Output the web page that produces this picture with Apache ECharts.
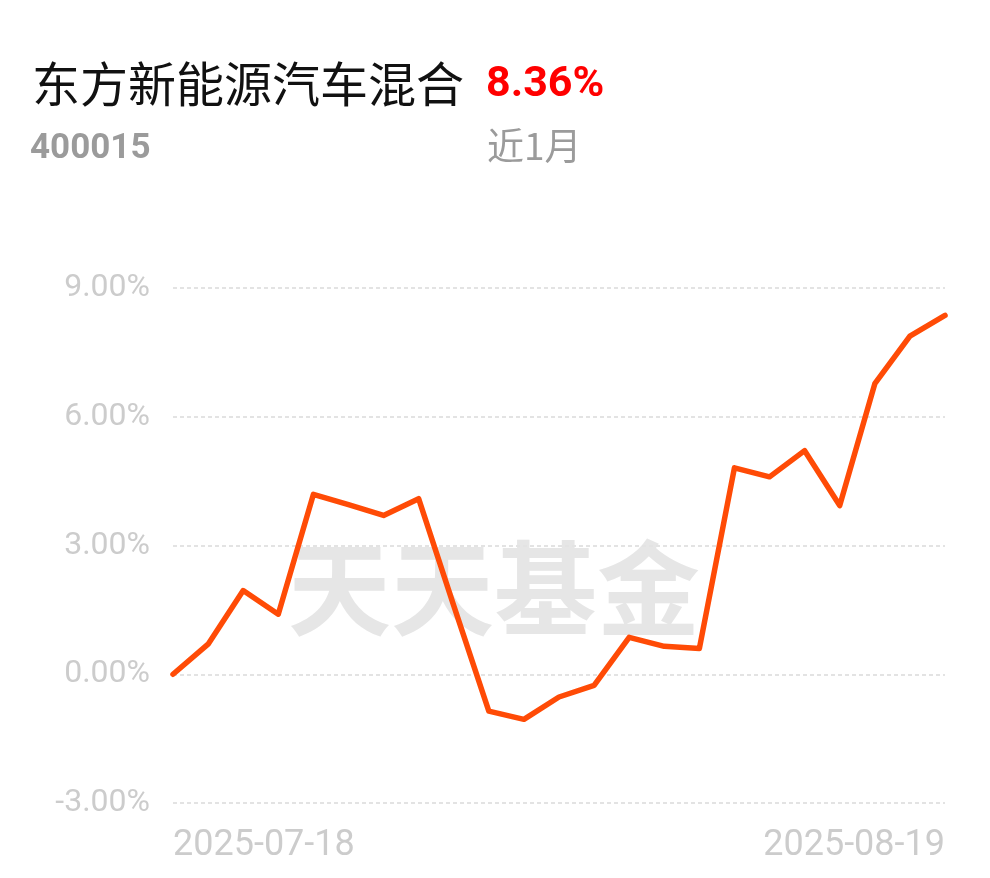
<!DOCTYPE html>
<html>
<head>
<meta charset="utf-8">
<script src="https://cdn.jsdelivr.net/npm/echarts@6/dist/echarts.min.js"></script>
<style>html,body{margin:0;padding:0;background:#fff}#c{width:990px;height:878px}</style>
</head>
<body>
<div id="c"></div>
<script>
const fundName = '东方新能源汽车混合';
const fundCode = '400015';
const periodLabel = '近1月';
const periodReturn = '8.36%';
const dates = ['2025-07-18','2025-07-21','2025-07-22','2025-07-23','2025-07-24','2025-07-25','2025-07-28','2025-07-29','2025-07-30','2025-07-31','2025-08-01','2025-08-04','2025-08-05','2025-08-06','2025-08-07','2025-08-08','2025-08-11','2025-08-12','2025-08-13','2025-08-14','2025-08-15','2025-08-18','2025-08-19'];
const returns = [0.00,0.70,1.95,1.40,4.19,3.95,3.70,4.09,1.60,-0.86,-1.05,-0.53,-0.26,0.86,0.65,0.60,4.81,4.60,5.21,3.93,6.77,7.88,8.36];
const yTicks = [-3, 0, 3, 6, 9];

const chart = echarts.init(document.getElementById('c'));
const lastIdx = dates.length - 1;
chart.setOption({
  animation: false,
  backgroundColor: '#fff',
  grid: { left: 173, right: 45, top: 288, bottom: 75, containLabel: false },
  graphic: [
    { type: 'text', left: 32, top: 60, z: 10,
      style: { text: fundName, fontSize: 48, fontFamily: 'Noto Sans CJK SC', fill: '#111' } },
    { type: 'text', left: 486, top: 64, z: 10,
      style: { text: periodReturn, fontSize: 43, fontWeight: 'bold', fontFamily: 'Roboto', fill: '#f00', } },
    { type: 'text', left: 30, top: 132, z: 10,
      style: { text: fundCode, fontSize: 35, fontWeight: 'bold', fontFamily: 'Roboto', fill: '#9b9b9b' } },
    { type: 'text', left: 487, top: 127, z: 10,
      style: { text: periodLabel, fontSize: 37, fontFamily: 'Noto Sans CJK SC', fill: '#9b9b9b' } },
    { type: 'text', left: 288, top: 537, z: 0, silent: true,
      style: { text: '天天基金', fontSize: 103, fontWeight: 'bold', fontFamily: 'Noto Sans CJK SC', fill: '#e6e6e6' } }
  ],
  xAxis: {
    type: 'category',
    data: dates,
    boundaryGap: false,
    axisLine: { show: false },
    axisTick: { show: false },
    splitLine: { show: false },
    axisLabel: {
      interval: (i) => i === 0 || i === lastIdx,
      showMinLabel: true, showMaxLabel: true,
      alignMinLabel: 'left', alignMaxLabel: 'right',
      color: '#cccccc', fontSize: 36, fontFamily: 'Roboto', margin: 25
    }
  },
  yAxis: {
    type: 'value',
    min: yTicks[0], max: yTicks[yTicks.length - 1], interval: 3,
    axisLine: { show: false },
    axisTick: { show: false },
    axisLabel: { formatter: (v) => v.toFixed(2) + '%', color: '#cccccc', fontSize: 32, fontFamily: 'Roboto', margin: 23 },
    splitLine: { show: true, lineStyle: { color: '#e3e3e3', width: 2, type: [4, 3] } }
  },
  series: [{
    type: 'line',
    data: returns,
    showSymbol: false,
    symbol: 'none',
    z: 5,
    lineStyle: { color: '#ff4b06', width: 5.5, cap: 'round', join: 'round' },
    itemStyle: { color: '#ff4b06' }
  }]
});
</script>
</body>
</html>
